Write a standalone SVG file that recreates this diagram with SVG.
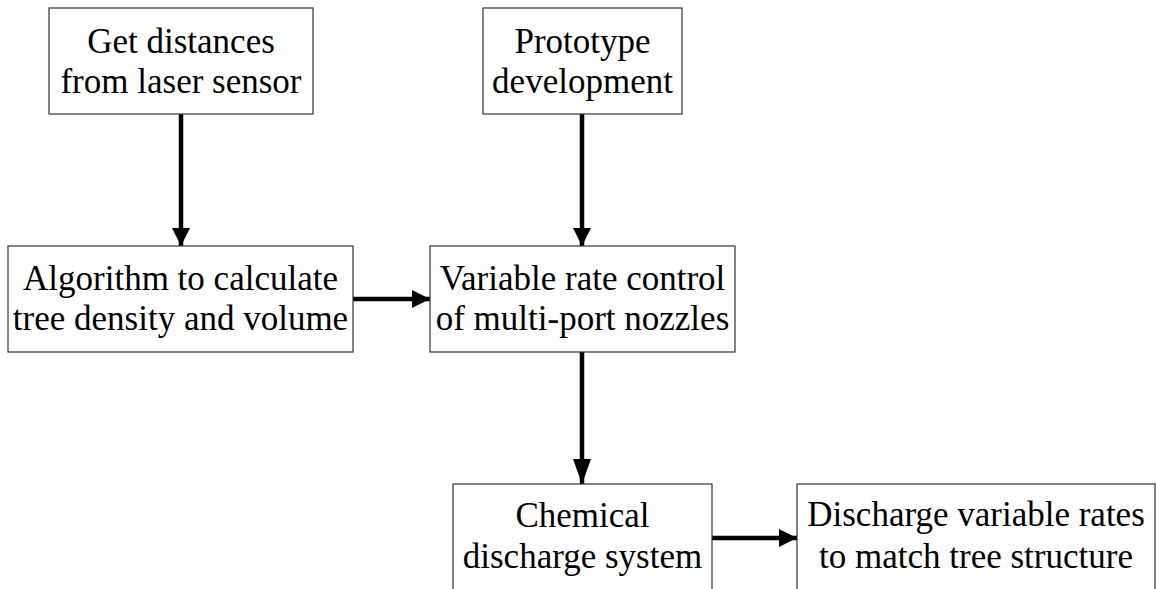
<svg xmlns="http://www.w3.org/2000/svg" width="1156" height="589" viewBox="0 0 1156 589">
<style>
.box{fill:#fff;stroke:#333;stroke-width:1.2}
.t{font-family:'Liberation Serif','Times New Roman',serif;font-size:35px;fill:#000;text-anchor:middle}
.c{stroke:#000;stroke-width:4.5;fill:none}
</style>
<defs>
<marker id="ah" markerUnits="userSpaceOnUse" markerWidth="19" markerHeight="18" refX="18" refY="9" orient="auto"><path d="M0,0 L18,9 L0,18 z" fill="#000"/></marker>
<marker id="ahl" markerUnits="userSpaceOnUse" markerWidth="26" markerHeight="18" refX="25" refY="9" orient="auto"><path d="M0,0 L25,9 L0,18 z" fill="#000"/></marker>
</defs>
<rect width="1156" height="589" fill="#fff"/>
<g id="connectors">
<line class="c" x1="181" y1="114" x2="181" y2="246" marker-end="url(#ah)"/>
<line class="c" x1="582" y1="114" x2="582" y2="246" marker-end="url(#ah)"/>
<line class="c" x1="353" y1="299" x2="430" y2="299" marker-end="url(#ah)"/>
<line class="c" x1="582" y1="352" x2="582" y2="484" marker-end="url(#ahl)"/>
<line class="c" x1="712" y1="538" x2="797" y2="538" marker-end="url(#ah)"/>
</g>
<g id="n1"><rect class="box" x="49" y="8" width="264" height="106"/>
<text class="t" x="181" y="53">Get distances</text><text class="t" x="181" y="93">from laser sensor</text></g>
<g id="n2"><rect class="box" x="483" y="8" width="199" height="106"/>
<text class="t" x="582.5" y="53">Prototype</text><text class="t" x="582.5" y="93">development</text></g>
<g id="n3"><rect class="box" x="8" y="246" width="345" height="106"/>
<text class="t" x="180.5" y="290">Algorithm to calculate</text><text class="t" x="180.5" y="330">tree density and volume</text></g>
<g id="n4"><rect class="box" x="430" y="246" width="305" height="106"/>
<text class="t" x="582.5" y="290">Variable rate control</text><text class="t" x="582.5" y="330">of multi-port nozzles</text></g>
<g id="n5"><rect class="box" x="453" y="484" width="259" height="120"/>
<text class="t" x="582.5" y="527">Chemical</text><text class="t" x="582.5" y="568">discharge system</text></g>
<g id="n6"><rect class="box" x="797" y="484" width="358" height="120"/>
<text class="t" x="976" y="526">Discharge variable rates</text><text class="t" x="976" y="568">to match tree structure</text></g>
</svg>
